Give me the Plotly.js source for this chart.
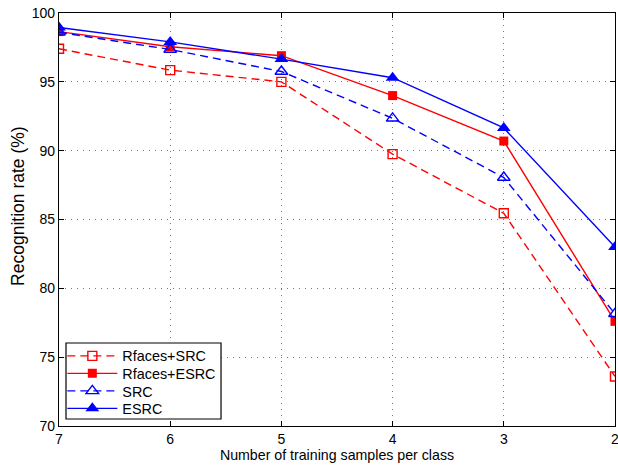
<!DOCTYPE html>
<html><head><meta charset="utf-8">
<script src="https://cdn.plot.ly/plotly-3.0.1.min.js"></script>
<style>html,body{margin:0;padding:0;background:#fff}#c{width:618px;height:465px}</style>
</head><body><div id="c"></div>
<script>
const samples = [7, 6, 5, 4, 3, 2];
const tickLabels = ['7', '6', '5', '4', '3', '2'];
const yTicks = [70, 75, 80, 85, 90, 95, 100];
const seriesNames = ['Rfaces+SRC', 'Rfaces+ESRC', 'SRC', 'ESRC'];
const rfacesSRC  = [97.4, 95.85, 95.0, 89.75, 85.45, 73.6];
const rfacesESRC = [98.65, 97.55, 96.9, 94.0, 90.7, 77.6];
const src        = [98.6, 97.35, 95.75, 92.35, 88.05, 78.15];
const esrc       = [98.95, 97.9, 96.65, 95.3, 91.65, 83.0];
const xTitle = 'Number of training samples per class';
const yTitle = 'Recognition rate (%)';

const RED = '#ff0000', BLUE = '#0000ff';
const DASH = '8px,5px';
const traces = [
  {x: samples, y: rfacesSRC, name: seriesNames[0], legend: 'legend', mode: 'lines+markers',
   line: {color: RED, width: 1.4, dash: DASH},
   marker: {symbol: 'square-open', size: 9, color: RED, line: {width: 1.4, color: RED}}},
  {x: samples, y: rfacesESRC, name: seriesNames[1], legend: 'legend2', mode: 'lines+markers',
   line: {color: RED, width: 1.4},
   marker: {symbol: 'square', size: 9, color: RED}},
  {x: samples, y: src, name: seriesNames[2], legend: 'legend3', mode: 'lines+markers',
   line: {color: BLUE, width: 1.4, dash: DASH},
   marker: {symbol: 'triangle-up-open', size: 11, color: BLUE, line: {width: 1.4, color: BLUE}}},
  {x: samples, y: esrc, name: seriesNames[3], legend: 'legend4', mode: 'lines+markers',
   line: {color: BLUE, width: 1.4},
   marker: {symbol: 'triangle-up', size: 12, color: BLUE}}
];

const fontFam = 'Liberation Sans, Arial, sans-serif';
function leg(y) {
  return {x: 0.006, y: y, xanchor: 'left', yanchor: 'middle',
    bgcolor: 'rgba(0,0,0,0)', borderwidth: 0, itemwidth: 50,
    font: {family: fontFam, size: 14.4, color: '#000'}};
}
const layout = {
  width: 618, height: 465,
  margin: {l: 59, r: 3, t: 13, b: 39},
  paper_bgcolor: '#fff', plot_bgcolor: '#fff',
  font: {family: fontFam, size: 14, color: '#000'},
  showlegend: true,
  legend: leg(0.1695), legend2: leg(0.1271), legend3: leg(0.0847), legend4: leg(0.0424),
  shapes: [{type: 'rect', xref: 'paper', yref: 'paper', layer: 'above',
    x0: 0.0126, x1: 0.2914, y0: 0.017, y1: 0.201,
    fillcolor: '#fff', line: {color: '#000', width: 1.2}}],
  annotations: [{text: yTitle, xref: 'paper', yref: 'paper', x: -0.0737, y: 0.533,
    xanchor: 'center', yanchor: 'middle', textangle: -90, showarrow: false,
    font: {family: fontFam, size: 17.5, color: '#000'}}],
  xaxis: {
    range: [7, 1.9999], tickvals: samples, ticktext: tickLabels, ticklabeloverflow: 'allow',
    showgrid: true, gridcolor: '#777', griddash: '1px,5px', gridwidth: 1,
    zeroline: false, showline: true, linecolor: '#000', linewidth: 1.2, mirror: 'ticks',
    ticks: 'inside', ticklen: 5, tickcolor: '#000',
    tickfont: {size: 14},
    title: {text: xTitle, font: {size: 14.2}, standoff: 3}
  },
  yaxis: {
    range: [70, 100], tickvals: yTicks,
    showgrid: true, gridcolor: '#777', griddash: '1px,5px', gridwidth: 1,
    zeroline: false, showline: true, linecolor: '#000', linewidth: 1.2, mirror: 'ticks',
    ticks: 'inside', ticklen: 5, tickcolor: '#000',
    tickfont: {size: 14}
  }
};
Plotly.newPlot('c', traces, layout, {displayModeBar: false, staticPlot: true});
</script></body></html>
